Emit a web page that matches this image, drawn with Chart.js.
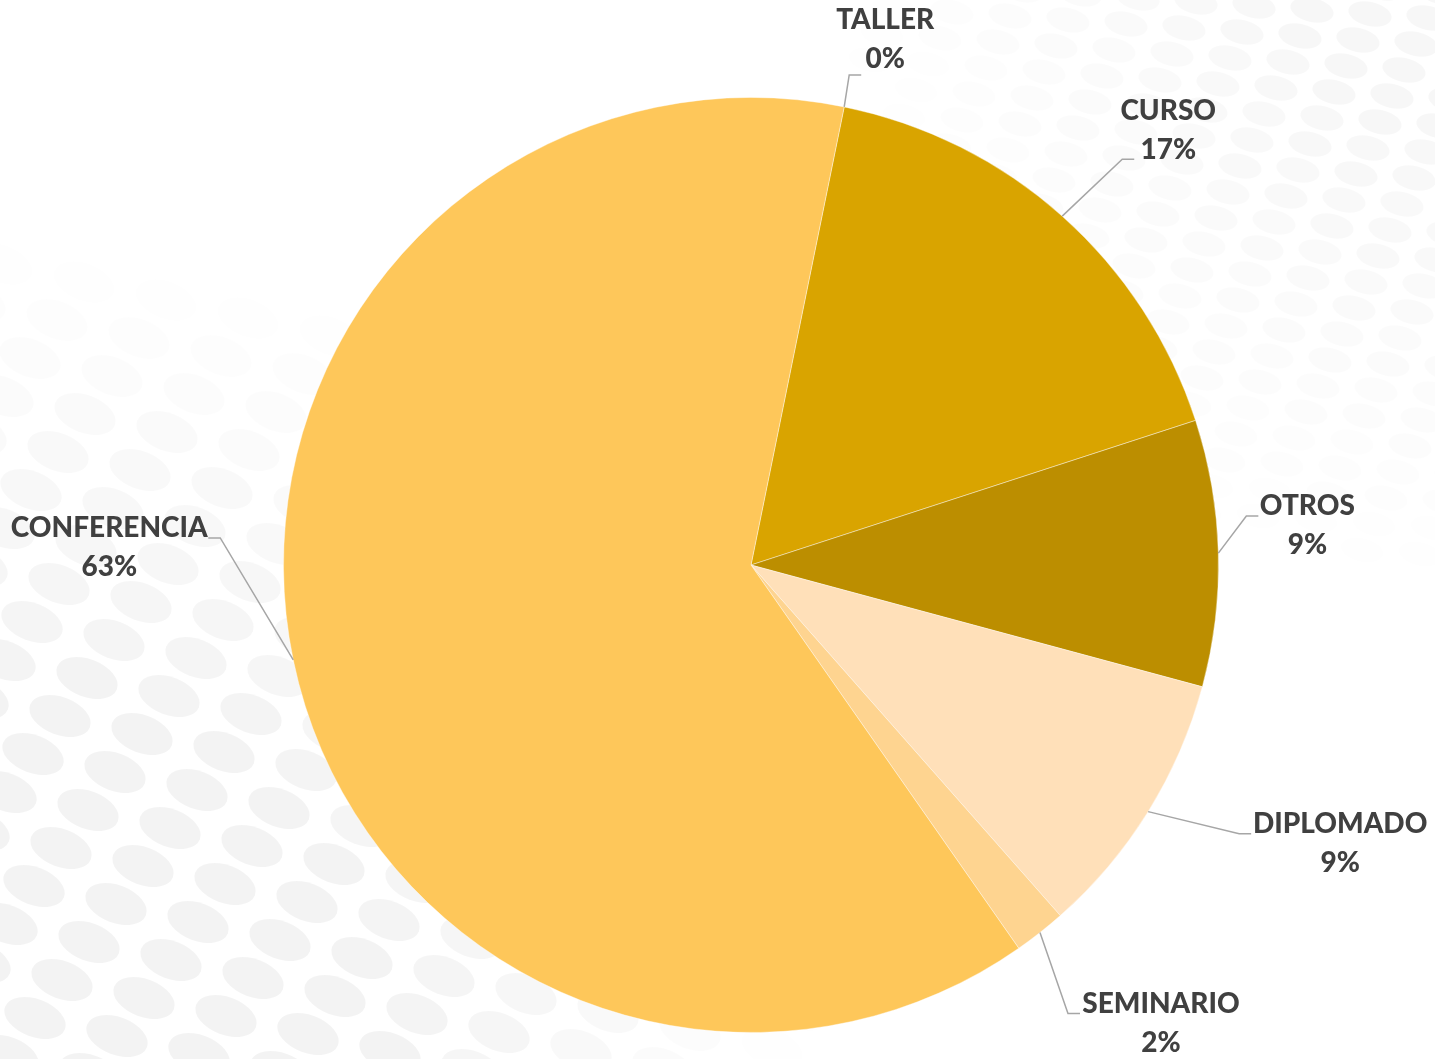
<!DOCTYPE html>
<html>
<head>
<meta charset="utf-8">
<script src="https://cdn.jsdelivr.net/npm/chart.js@4.4.1/dist/chart.umd.min.js"></script>
<style>
  html, body { margin: 0; padding: 0; background: #fff; overflow: hidden; }
</style>
</head>
<body>
<canvas id="pieChart" width="1435" height="1059"></canvas>
<script>
// data (share of the pie, in %)
const categories = ['TALLER', 'CURSO', 'OTROS', 'DIPLOMADO', 'SEMINARIO', 'CONFERENCIA'];
const shares = [0, 16.8, 9.2, 9.3, 1.8, 62.9];
const sliceColors = ['#FFE699', '#D9A400', '#BC8E00', '#FFE0B9', '#FED490', '#FEC75A'];

// where each label sits, relative to the point where its leader leaves the pie
// [elbow dx, elbow dy, text dx, text dy, side]
const labelLayout = [
  [5, -32, 41, -87, 1],
  [60, -57, 106, -105, 1],
  [28, -37, 89, -47, 1],
  [91, 22, 192, 12, 1],
  [28, 81, 121, 71, 1],
  [-73, -122, -184, -132, -1]
];

// faint grey dot patches (bottom-left and top-right corners)
function dotPatch(ctx, w, h, o) {
  for (let i = -30; i < 40; i++) {
    for (let j = -30; j < 50; j++) {
      const x = i * o.a[0] + j * o.b[0];
      const y = i * o.a[1] + j * o.b[1];
      if (x < -60 || x > w + 60 || y < -60 || y > h + 60) continue;
      const d = Math.hypot(x - o.cx, y - o.cy);
      const s = Math.min(1, Math.max(0, 1 - d / o.r) * o.gain);
      if (s <= 0.03) continue;
      ctx.fillStyle = `rgba(0,0,0,${o.alpha * s})`;
      ctx.beginPath();
      ctx.ellipse(x, y, o.rx, o.ry, o.rot, 0, Math.PI * 2);
      ctx.fill();
    }
  }
}

const dotBackground = {
  id: 'dotBackground',
  beforeDraw(chart) {
    const ctx = chart.ctx;
    const w = chart.width, h = chart.height;
    ctx.save();
    ctx.fillStyle = '#fff';
    ctx.fillRect(0, 0, w, h);
    dotPatch(ctx, w, h, { a: [82, 18], b: [-27, 38], cx: 0, cy: h, r: 820, gain: 1.8,
      alpha: 0.048, rx: 32, ry: 19, rot: 0.36 });
    dotPatch(ctx, w, h, { a: [58, 4], b: [-12, 26], cx: w, cy: 0, r: 600, gain: 1.2,
      alpha: 0.032, rx: 22, ry: 12, rot: 0.22 });
    ctx.restore();
  }
};

// category + percent labels with leader lines
const pieLabels = {
  id: 'pieLabels',
  afterDatasetsDraw(chart) {
    const ctx = chart.ctx;
    const meta = chart.getDatasetMeta(0);
    const vals = chart.data.datasets[0].data;
    const total = vals.reduce((s, v) => s + v, 0);
    ctx.save();
    meta.data.forEach((arc, i) => {
      const mid = (arc.startAngle + arc.endAngle) / 2;
      const px = arc.x + Math.cos(mid) * arc.outerRadius;
      const py = arc.y + Math.sin(mid) * arc.outerRadius;
      const [ex, ey, tx, ty, side] = labelLayout[i];
      ctx.strokeStyle = '#A6A6A6';
      ctx.lineWidth = 1.5;
      ctx.beginPath();
      ctx.moveTo(px, py);
      ctx.lineTo(px + ex, py + ey);
      ctx.lineTo(px + ex + side * 12, py + ey);
      ctx.stroke();

      ctx.fillStyle = '#404040';
      ctx.font = '900 28px Lato';
      ctx.textAlign = 'center';
      ctx.textBaseline = 'middle';
      ctx.fillText(chart.data.labels[i], px + tx, py + ty);
      ctx.fillText(Math.round(vals[i] / total * 100) + '%', px + tx, py + ty + 39);
    });
    ctx.restore();
  }
};

new Chart(document.getElementById('pieChart'), {
  type: 'pie',
  data: {
    labels: categories,
    datasets: [{
      data: shares,
      backgroundColor: sliceColors,
      borderColor: 'rgba(255, 255, 255, 0.4)',
      borderWidth: 1
    }]
  },
  options: {
    responsive: false,
    animation: false,
    rotation: 11.5,
    layout: { padding: { top: 97, bottom: 26, left: 283, right: 216 } },
    plugins: {
      legend: { display: false },
      tooltip: { enabled: false }
    }
  },
  plugins: [dotBackground, pieLabels]
});
</script>
</body>
</html>
